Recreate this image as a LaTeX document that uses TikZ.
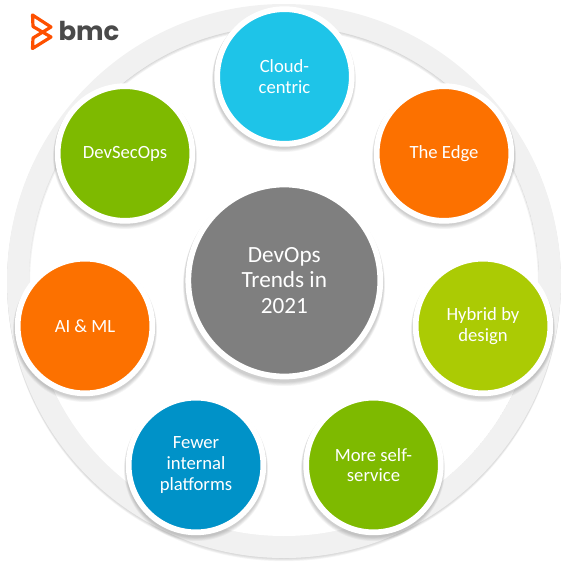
\documentclass[tikz,border=0pt]{standalone}
\usepackage{fontspec}
\setmainfont{Carlito}
\newfontfamily\logofont{Poppins}
\definecolor{ringgray}{HTML}{F1F1F1}
\definecolor{bmcorange}{HTML}{FE5000}
\definecolor{logogray}{HTML}{4A4A4A}
\definecolor{cCloud}{HTML}{1EC4E8}
\definecolor{cEdge}{HTML}{FC7100}
\definecolor{cHybrid}{HTML}{ABCB04}
\definecolor{cGreen}{HTML}{7EBA00}
\definecolor{cBlue}{HTML}{0092C8}
\definecolor{cCentre}{HTML}{7F7F7F}
\tikzset{
  trend/.style={circle,draw=white,line width=4.3pt,minimum size=101pt,inner sep=0pt,
    align=center,text=white,font=\fontsize{14}{15.5}\selectfont},
  hub/.style={trend,minimum size=144pt,font=\fontsize{17.4}{19}\selectfont},
}
\begin{document}
\begin{tikzpicture}[x=0.75pt,y=-0.75pt]
\useasboundingbox (0,0) rectangle (569,568);
% ring behind everything
\foreach \o in {4,3,2,1}
  \fill[black,opacity=0.04] (284,281+\o*0.8) circle[radius=277];
\fill[ringgray] (284,281) circle[radius=277];
\begin{scope}
  \clip (284,281) circle[radius=255];
  \fill[white] (284,281) circle[radius=255];
  \foreach \o in {1,2,3}
    \draw[black,opacity=0.05,line width=\o*1.5pt] (284,283) circle[radius=257];
\end{scope}
% circles
\foreach \x/\y/\r in {284/76/70,444/153/70,483/326/70,373/465/70,196/465/70,85/326/70,125/153/70,284/281/99}
  \foreach \o in {5,4,3,2,1}
    \fill[black,opacity=0.04] (\x,\y+1.5+\o*0.5) circle[radius=\r+\o*0.4];
\node[trend,fill=cCloud] (cloud) at (284.5,76.5) {Cloud-\\centric};
\node[trend,fill=cEdge] (edge) at (444,153.5) {The Edge};
\node[trend,fill=cHybrid] (hybrid) at (483,326) {Hybrid by\\design};
\node[trend,fill=cGreen] (self) at (373.5,465) {More self-\\service};
\node[trend,fill=cBlue] (fewer) at (196,465) {Fewer\\internal\\platforms};
\node[trend,fill=cEdge] (aiml) at (85,326) {AI \& ML};
\node[trend,fill=cGreen] (devsec) at (125,153.5) {DevSecOps};
\node[hub,fill=cCentre] (centre) at (284.3,280.5) {DevOps\\Trends in\\2021};
% logo
\draw[bmcorange,line width=2.4pt,line join=round]
  (32.5,15) -- (51,27) -- (33,38) -- (32.5,48.5) -- (51,37) -- (33,26.5) -- cycle;
\node[font=\logofont\bfseries\fontsize{19.5}{19.5}\selectfont,text=logogray,inner sep=0pt] (logo) at (89,31) {bmc};
\end{tikzpicture}
\end{document}
